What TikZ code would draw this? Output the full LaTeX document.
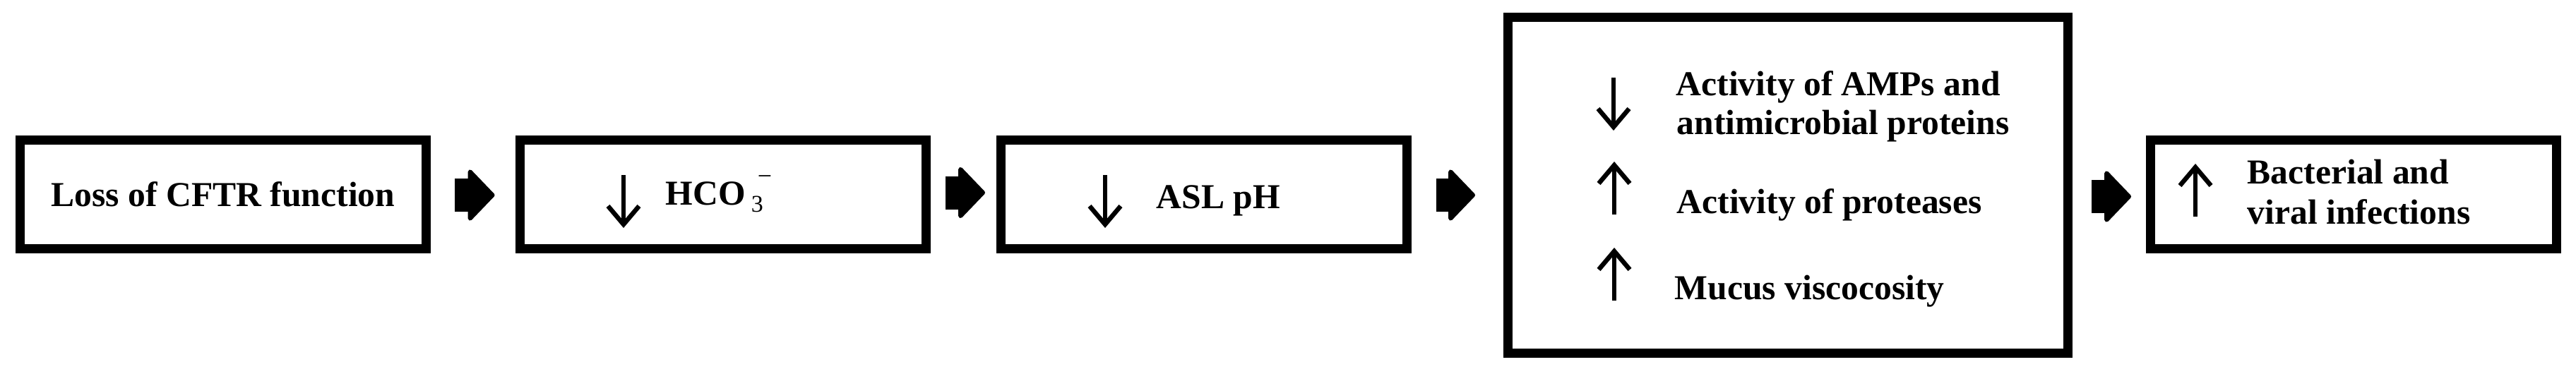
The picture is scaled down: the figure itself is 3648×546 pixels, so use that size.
\documentclass[tikz,border=0pt]{standalone}
\usepackage{fontspec}
\setmainfont{Liberation Serif}
\usetikzlibrary{arrows.meta}
\tikzset{
  box/.style={draw=black, line width=3.25pt, outer sep=1.625pt, inner sep=0pt,
    minimum width=143.75pt, minimum height=38.5pt},
  bigfont/.style={font=\bfseries\fontsize{12.4pt}{14pt}\selectfont},
  lbl/.style={bigfont, inner sep=0pt, anchor=base west},
  sub/.style={inner sep=0pt, anchor=base west, font=\fontsize{8.5pt}{10pt}\selectfont},
  sup/.style={inner sep=0pt, anchor=center, font=\fontsize{9pt}{10pt}\selectfont},
  block/.style={line width=11.75pt,
    -{Triangle[length=9.75pt, width=20pt, line width=1.5pt, round]}},
  glyph/.style={line width=1.625pt, line cap=butt, line join=miter},
  dnarr/.pic={\draw[glyph] (0,0) -- (0,72); \draw[glyph] (-22,44) -- (0,70) -- (22,44);},
  uparr/.pic={\draw[glyph] (0,0) -- (0,72); \draw[glyph] (-22,28) -- (0,2) -- (22,28);},
}
\begin{document}
\begin{tikzpicture}[x=0.25pt, y=-0.25pt]
  \fill[white] (0,0) rectangle (3648,546);
  \useasboundingbox (0,0) rectangle (3648,546);

  % boxes
  \node[box, bigfont] (b1) at (316,275.5) {Loss of CFTR function};
  \node[box] (b2) at (1023.5,275.5) {};
  \node[box] (b3) at (1705,275.5) {};
  \node[box, minimum width=198.25pt, minimum height=119pt] (b4) at (2532,262.5) {};
  \node[box] (b5) at (3333,275.5) {};

  % box 2 content
  \pic at (883,248) {dnarr};
  \node[lbl] (t2) at (942,290) {HCO};
  \node[sub] (t2s) at (1063,300) {3};
  \node[sup] (t2m) at (1083,255) {−};

  % box 3 content
  \pic at (1565,248) {dnarr};
  \node[lbl] (t3) at (1637,295) {ASL pH};

  % box 4 content
  \pic at (2285,110) {dnarr};
  \node[lbl] (t4a) at (2373,135) {Activity of AMPs and};
  \node[lbl] (t4b) at (2374,190) {antimicrobial proteins};
  \pic at (2286,232) {uparr};
  \node[lbl] (t4c) at (2374,302) {Activity of proteases};
  \pic at (2286,354) {uparr};
  \node[lbl] (t4d) at (2371,424) {Mucus viscocosity};

  % box 5 content
  \pic at (3109,235) {uparr};
  \node[lbl] (t5a) at (3182,260) {Bacterial and};
  \node[lbl] (t5b) at (3182,317) {viral infections};

  % block arrows
  \coordinate (c3) at (b3.east -| b4.west);
  \coordinate (c4) at (b4.east |- b5.west);
  \draw[block, shorten <=8.5pt, shorten >=7.25pt] ([yshift=-0.25pt]b1.east) -- ([yshift=-0.25pt]b2.west);
  \draw[block, shorten <=5.25pt, shorten >=4pt] ([yshift=0.625pt]b2.east) -- ([yshift=0.625pt]b3.west);
  \draw[block, shorten <=8.75pt, shorten >=10pt] ([yshift=-0.25pt]b3.east) -- ([yshift=-0.25pt]c3);
  \draw[block, shorten <=6.75pt, shorten >=5.25pt] ([yshift=-0.75pt]c4) -- ([yshift=-0.75pt]b5.west);
\end{tikzpicture}
\end{document}
